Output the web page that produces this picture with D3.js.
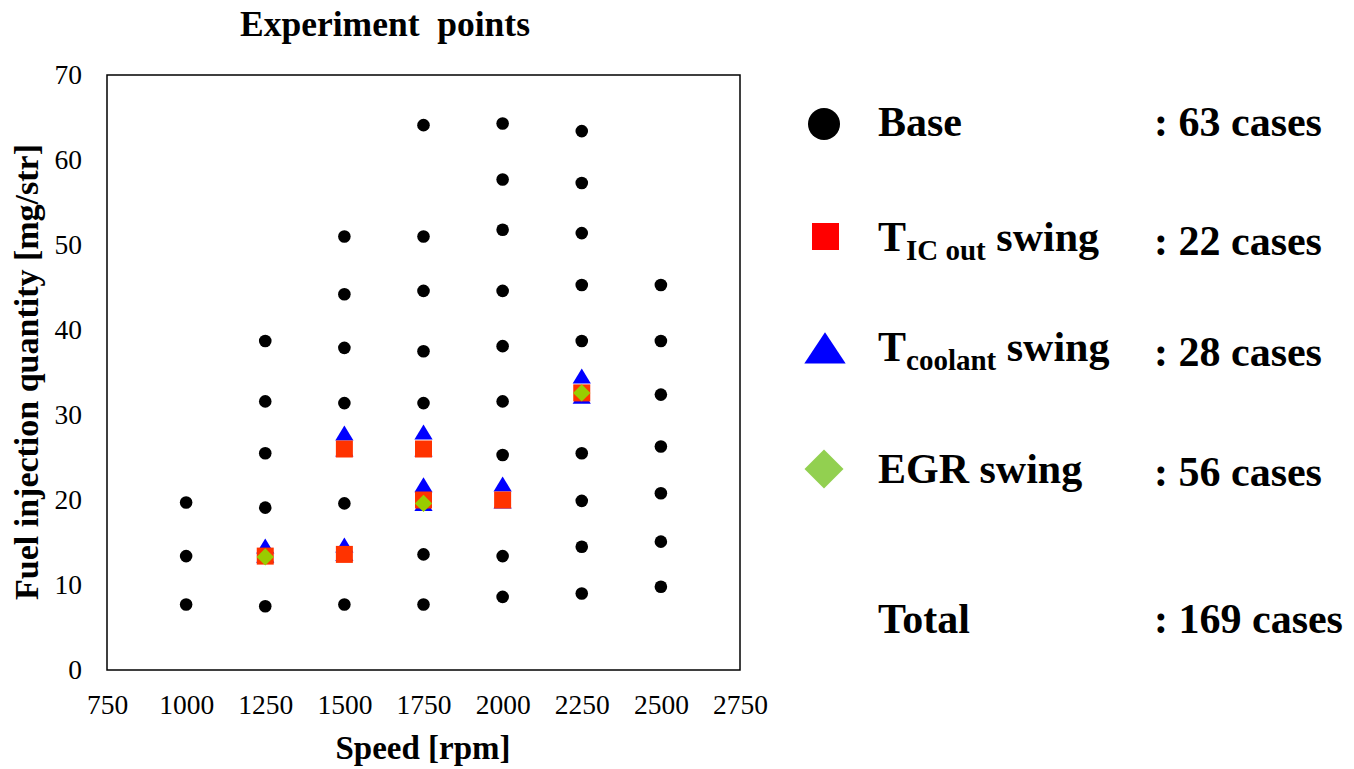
<!DOCTYPE html>
<html>
<head>
<meta charset="utf-8">
<script src="https://cdn.jsdelivr.net/npm/d3@7"></script>
<style>
  body { margin: 0; background: #fff; }
  svg text { font-family: "Liberation Serif", "Times New Roman", serif; fill: #000; }
  .tick text { font-size: 27.5px; }
  .bold { font-weight: bold; }
</style>
</head>
<body>
<svg id="chart" width="1354" height="769"></svg>
<script>
// speed [rpm] / fuel [mg/str]
let base_speed = [1000,1000,1000,
    1250,1250,1250,1250,1250,
    1500,1500,1500,1500,1500,1500,
    1750,1750,1750,1750,1750,1750,1750,
    2000,2000,2000,2000,2000,2000,2000,2000,2000,
    2250,2250,2250,2250,2250,2250,2250,2250,2250,
    2500,2500,2500,2500,2500,2500,2500];
let base_fuel = [19.7,13.4,7.7,
    38.7,31.6,25.5,19.1,7.5,
    51.0,44.2,37.9,31.4,19.6,7.7,
    64.1,51.0,44.6,37.5,31.4,13.6,7.7,
    64.3,57.7,51.8,44.6,38.1,31.6,25.3,13.4,8.6,
    63.4,57.3,51.4,45.3,38.7,25.5,19.9,14.5,9.0,
    45.3,38.7,32.4,26.3,20.8,15.1,9.8];

let coolant_speed = [1250,1250,1500,1500,1500,1500,1750,1750,1750,1750,2000,2000,2250,2250];
let coolant_fuel  = [14.3,13.2,14.4,13.4,27.6,25.7,27.7,25.7,21.5,19.3,21.6,19.6,34.3,31.9];

let ic_speed = [1250,1500,1500,1750,1750,2000,2250];
let ic_fuel  = [13.4,13.6,26.0,26.0,20.0,20.0,32.6];

let egr_speed = [1250,1750,2250];
let egr_fuel  = [13.3,19.6,32.6];

let x_ticks = [750,1000,1250,1500,1750,2000,2250,2500,2750];
let y_ticks = [0,10,20,30,40,50,60,70];

let legend_names = ["Base", "T|IC out| swing", "T|coolant| swing", "EGR swing", "Total"];
let legend_cases = [": 63 cases", ": 22 cases", ": 28 cases", ": 56 cases", ": 169 cases"];

let svg = d3.select("#chart");
let m_left = 107, m_right = 740, m_top = 75, m_bottom = 670;

let x = d3.scaleLinear().domain([750, 2750]).range([m_left, m_right]);
let y = d3.scaleLinear().domain([0, 70]).range([m_bottom, m_top]);

/* plot frame */
svg.append("rect")
    .attr("x", m_left).attr("y", m_top)
    .attr("width", m_right - m_left).attr("height", m_bottom - m_top)
    .attr("fill", "none").attr("stroke", "#000").attr("stroke-width", 1.5);

/* axes, no tick lines just labels like excel */
let xAxis = d3.axisBottom(x).tickValues(x_ticks).tickSize(0).tickPadding(24).tickFormat(d3.format("d"));
let yAxis = d3.axisLeft(y).tickValues(y_ticks).tickSize(0).tickPadding(25).tickFormat(d3.format("d"));
svg.append("g").attr("transform", "translate(0," + m_bottom + ")").call(xAxis)
    .call(g => g.select(".domain").remove());
svg.append("g").attr("transform", "translate(" + m_left + ",0)").call(yAxis)
    .call(g => g.select(".domain").remove());
svg.selectAll("g").attr("font-family", null).attr("font-size", null);

/* titles */
svg.append("text").attr("class", "bold")
    .attr("x", 385).attr("y", 36).attr("text-anchor", "middle")
    .attr("font-size", 35.5).style("white-space", "pre").text("Experiment  points");
svg.append("text").attr("class", "bold")
    .attr("x", 423).attr("y", 759).attr("text-anchor", "middle")
    .attr("font-size", 33).text("Speed [rpm]");
svg.append("text").attr("class", "bold")
    .attr("transform", "translate(38,372) rotate(-90)")
    .attr("text-anchor", "middle")
    .attr("font-size", 33)
    .attr("textLength", 456).attr("lengthAdjust", "spacingAndGlyphs")
    .text("Fuel injection quantity [mg/str]");

/* markers */
let plot = svg.append("g");
plot.selectAll(".base").data(d3.range(base_speed.length)).enter().append("circle")
    .attr("cx", i => x(base_speed[i])).attr("cy", i => y(base_fuel[i]))
    .attr("r", 6.3).attr("fill", "#000");

let tri = d3.symbol().type(d3.symbolTriangle).size(130);
plot.selectAll(".cool").data(d3.range(coolant_speed.length)).enter().append("path")
    .attr("d", tri)
    .attr("transform", i => "translate(" + x(coolant_speed[i]) + "," + y(coolant_fuel[i]) + ") scale(1.05,1)")
    .attr("fill", "#0000ff");

plot.selectAll(".ic").data(d3.range(ic_speed.length)).enter().append("rect")
    .attr("x", i => x(ic_speed[i]) - 8.5).attr("y", i => y(ic_fuel[i]) - 8.5)
    .attr("width", 17).attr("height", 17).attr("fill", "#ff3300");

let dia = d3.symbol().type(d3.symbolSquare).size(150);
plot.selectAll(".egr").data(d3.range(egr_speed.length)).enter().append("path")
    .attr("d", dia)
    .attr("transform", i => "translate(" + x(egr_speed[i]) + "," + y(egr_fuel[i]) + ") rotate(45)")
    .attr("fill", "#99cc00");

/* legend on the right */
let rows_y = [136, 251, 361, 483, 633];
let cases_y = [136, 255, 366, 486, 633];
let leg = svg.append("g");
leg.append("circle").attr("cx", 824).attr("cy", 124).attr("r", 16).attr("fill", "#000");
leg.append("rect").attr("x", 812).attr("y", 223).attr("width", 27).attr("height", 27).attr("fill", "#ff0000");
leg.append("path").attr("d", d3.symbol().type(d3.symbolTriangle).size(560))
    .attr("transform", "translate(825,353) scale(1.15,1)").attr("fill", "#0000ff");
leg.append("path").attr("d", d3.symbol().type(d3.symbolSquare).size(760))
    .attr("transform", "translate(824,469) rotate(45)").attr("fill", "#92d050");

legend_names.forEach(function(name, i) {
    let t = leg.append("text").attr("class", "bold").attr("x", 878).attr("y", rows_y[i]).attr("font-size", 42);
    let parts = name.split("|");
    t.append("tspan").text(parts[0]);
    if (parts.length > 1) {
        t.append("tspan").attr("font-size", 29).attr("dy", 9).text(parts[1]);
        t.append("tspan").attr("dy", -9).text(" " + parts[2].trim());
    }
    leg.append("text").attr("class", "bold").attr("x", 1154).attr("y", cases_y[i])
        .attr("font-size", 42).text(legend_cases[i]);
});
</script>
</body>
</html>
